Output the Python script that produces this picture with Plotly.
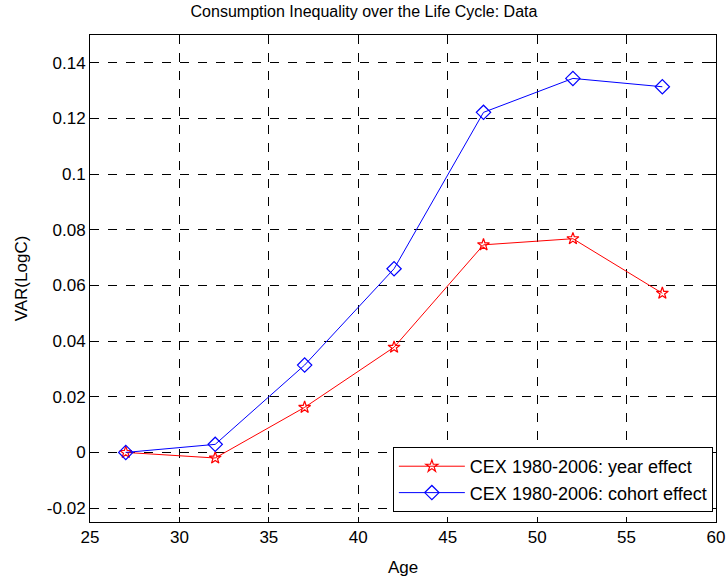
import plotly.graph_objects as go

age = [27, 32, 37, 42, 47, 52, 57]
year_effect = [0.0, -0.002, 0.0162, 0.0378, 0.0746, 0.0768, 0.0572]
cohort_effect = [0.0, 0.0029, 0.0314, 0.0660, 0.1222, 0.1344, 0.1314]

x_ticks = [25, 30, 35, 40, 45, 50, 55, 60]
y_ticks = [-0.02, 0, 0.02, 0.04, 0.06, 0.08, 0.1, 0.12, 0.14]
y_labels = ["-0.02", "0", "0.02", "0.04", "0.06", "0.08", "0.1", "0.12", "0.14"]

font = "Liberation Sans, Arial, sans-serif"
black = "#000000"

fig = go.Figure()
fig.add_trace(go.Scatter(
    x=age, y=year_effect, mode="lines+markers",
    name="CEX 1980-2006: year effect",
    line=dict(color="#ff0000", width=1),
    marker=dict(symbol="star-open", size=9, color="#ff0000", line=dict(width=1.2)),
))
fig.add_trace(go.Scatter(
    x=age, y=cohort_effect, mode="lines+markers",
    name="CEX 1980-2006: cohort effect",
    line=dict(color="#0000ff", width=1),
    marker=dict(symbol="diamond-open", size=11, color="#0000ff", line=dict(width=1.2)),
))

axis_common = dict(
    showgrid=True, gridcolor=black, gridwidth=1, griddash="dash",
    zeroline=False, showline=True, linecolor=black, linewidth=1,
    mirror="ticks", ticks="inside", ticklen=5, tickcolor=black,
    tickfont=dict(family=font, size=17, color=black),
    automargin=False,
)

fig.update_layout(
    width=728, height=579,
    margin=dict(l=90, r=12, t=35, b=57),
    paper_bgcolor="#ffffff", plot_bgcolor="#ffffff",
    title=dict(text="Consumption Inequality over the Life Cycle: Data",
               x=0.5, xanchor="center", y=0.99, yanchor="top",
               font=dict(family=font, size=16, color=black)),
    xaxis=dict(range=[25, 60], tickvals=x_ticks,
               title=dict(text="Age", font=dict(family=font, size=17, color=black), standoff=14),
               **axis_common),
    yaxis=dict(range=[-0.025, 0.15], tickvals=y_ticks, ticktext=y_labels,
               title=dict(text="VAR(LogC)", font=dict(family=font, size=17, color=black), standoff=14),
               **axis_common),
    legend=dict(x=0.995, y=0.0205, xanchor="right", yanchor="bottom",
                bgcolor="#ffffff", bordercolor=black, borderwidth=1,
                font=dict(family=font, size=18, color=black),
                tracegroupgap=0, itemwidth=66),
    showlegend=True,
)

fig.write_html("out.html")
